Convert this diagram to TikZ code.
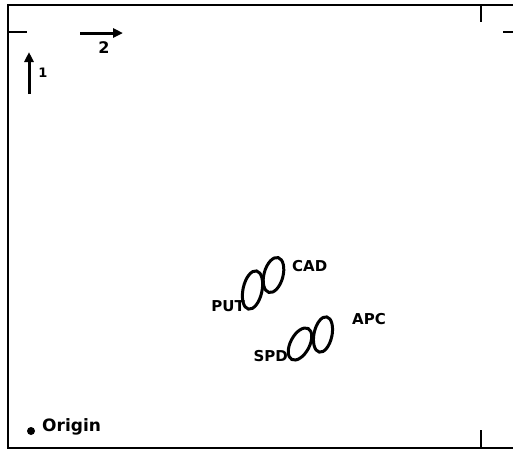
\documentclass[tikz,border=0pt]{standalone}
\usepackage{fontspec}
\setmainfont{DejaVu Sans}
\usetikzlibrary{shapes.geometric,arrows.meta}
\begin{document}
\begin{tikzpicture}[x=1pt,y=-1pt,
  lbl/.style={font=\bfseries\fontsize{15}{16}\selectfont, inner sep=0pt},
  blob/.style={draw, ellipse, line width=3pt, inner sep=0pt},
  frame/.style={line width=2pt},
  axarrow/.style={line width=3pt, -{Triangle[length=10pt,width=9pt]}}]
\useasboundingbox (0,0) rectangle (513,451);
% frame
\coordinate (tl) at (8,5);
\coordinate (bl) at (8,448);
\coordinate (tr) at (513,5);
\coordinate (br) at (513,448);
\draw[frame] (tr) -- (tl) -- (bl) -- (br);
% ticks
\coordinate (lt1) at (8,32); \coordinate (lt2) at (27,32);
\draw[frame] (lt1) -- (lt2);
\coordinate (tt1) at (481,5); \coordinate (tt2) at (481,22);
\draw[frame] (tt1) -- (tt2);
\coordinate (rt1) at (503,32); \coordinate (rt2) at (513,32);
\draw[frame] (rt1) -- (rt2);
\coordinate (bt1) at (481,430); \coordinate (bt2) at (481,448);
\draw[line width=2.8pt] (bt1) -- (bt2);
% axis arrows
\coordinate (a2s) at (80,33); \coordinate (a2e) at (123,33);
\draw[axarrow] (a2s) -- (a2e);
\node[lbl, font=\bfseries\fontsize{16}{17}\selectfont] (l2) at (104,48) {2};
\coordinate (a1s) at (29,94); \coordinate (a1e) at (29,52);
\draw[axarrow] (a1s) -- (a1e);
\node[lbl, font=\bfseries\fontsize{13}{14}\selectfont] (l1) at (43,73) {1};
% ellipses
\node[blob, minimum width=19pt, minimum height=39pt, rotate=-12] (put) at (252.5,290) {};
\node[blob, minimum width=19pt, minimum height=36pt, rotate=-15] (cad) at (273.5,275) {};
\node[blob, minimum width=19pt, minimum height=35pt, rotate=-28] (spd) at (300,344) {};
\node[blob, minimum width=18pt, minimum height=36pt, rotate=-12] (apc) at (323,334.5) {};
% labels
\node[lbl, anchor=base west] (cadl) at (292,271) {CAD};
\node[lbl, anchor=base east] (putl) at (245,311) {PUT};
\node[lbl, anchor=base west] (apcl) at (352,324) {APC};
\node[lbl, anchor=base east] (spdl) at (288,361) {SPD};
% origin
\node[circle, fill, inner sep=0pt, minimum size=8pt] (orig) at (31,431) {};
\node[lbl, anchor=base west, font=\bfseries\fontsize{17}{18}\selectfont] (origl) at (42,431) {Origin};
\end{tikzpicture}
\end{document}
